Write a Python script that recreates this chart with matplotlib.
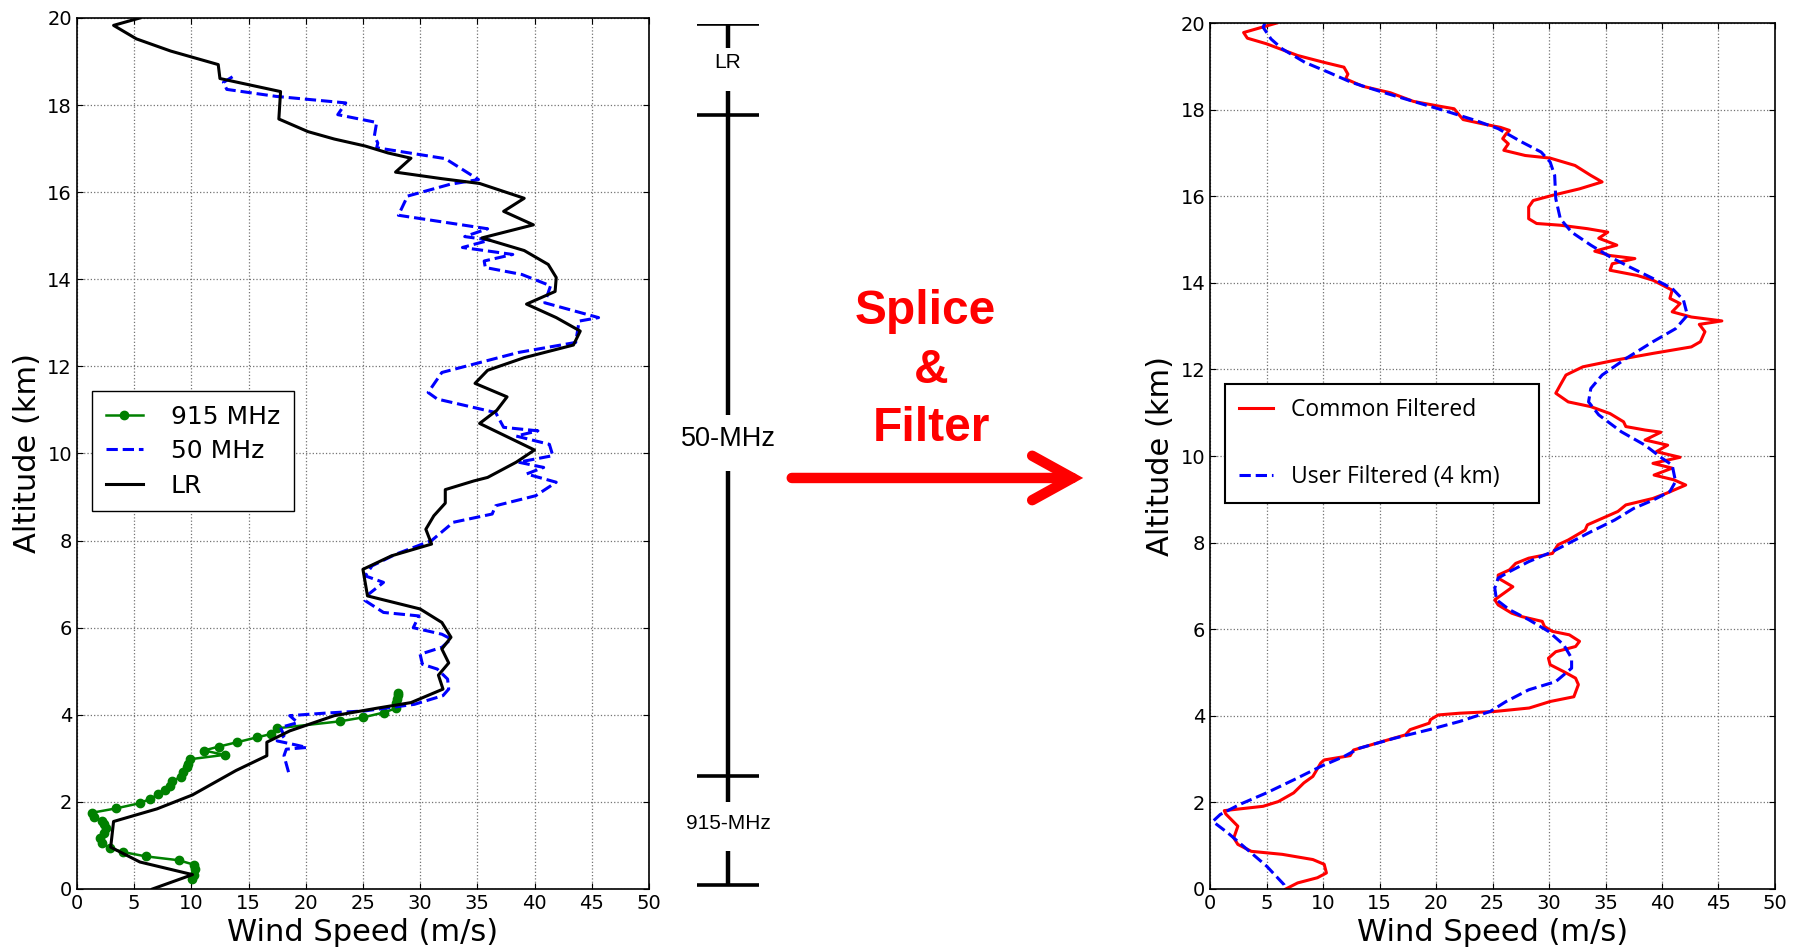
import matplotlib
matplotlib.use('Agg')
from matplotlib import pyplot as plt
from matplotlib.patches import FancyArrowPatch

# ---- left panel: raw profiles (wind speed m/s, altitude km) ----
lr_alt = [20.0, 19.83, 19.52, 19.24, 18.93, 18.61, 18.31, 17.68, 17.39, 17.22,
          17.06, 16.9, 16.78, 16.46, 16.31, 16.2, 15.86, 15.56, 15.25, 14.95,
          14.66, 14.34, 14.04, 13.72, 13.43, 13.12, 12.81, 12.49, 12.2, 11.91,
          11.61, 11.3, 10.99, 10.69, 10.08, 9.8, 9.45, 9.37, 9.17, 8.86,
          8.57, 8.26, 7.92, 7.65, 7.34, 6.73, 6.43, 6.12, 5.78, 5.51,
          5.19, 4.91, 4.59, 4.28, 4.15, 3.98, 3.63, 3.37, 3.06, 2.72,
          2.16, 1.84, 1.55, 0.96, 0.62, 0.33, 0.0]
lr_spd = [5.5, 3.2, 5.2, 8.2, 12.35, 12.5, 17.8, 17.65, 20.2, 22.5,
          25.2, 27.2, 29.2, 27.85, 31.9, 35.2, 39.1, 37.3, 39.9, 35.4,
          39.1, 41.2, 41.9, 41.8, 39.3, 41.9, 44.0, 43.4, 39.1, 35.9,
          34.8, 37.6, 36.7, 35.2, 40.0, 38.4, 35.9, 34.7, 32.2, 32.2,
          31.2, 30.5, 31.0, 27.5, 25.0, 25.4, 30.0, 31.9, 32.7, 31.9,
          32.5, 31.6, 32.0, 29.2, 26.2, 22.5, 18.6, 16.6, 16.6, 13.9,
          10.1, 7.0, 3.2, 2.95, 5.5, 10.1, 6.6]

mhz50_alt = [18.65, 18.52, 18.36, 18.2, 18.05, 17.78, 17.6, 17.29, 17.13, 17.02,
             16.77, 16.29, 16.18, 15.91, 15.47, 15.16, 14.98, 14.9, 14.73, 14.57,
             14.42, 14.27, 14.11, 13.85, 13.46, 13.12, 13.04, 12.55, 12.32, 11.86,
             11.4, 11.25, 10.94, 10.6, 10.52, 10.4, 10.21, 9.95, 9.8, 9.68,
             9.53, 9.34, 9.03, 8.8, 8.61, 8.42, 8.0, 7.69, 7.42, 7.19,
             7.04, 6.77, 6.62, 6.35, 6.27, 6.0, 5.85, 5.74, 5.55, 5.39,
             5.16, 5.05, 4.82, 4.59, 4.44, 4.32, 4.24, 4.09, 4.04, 3.98,
             3.82, 3.71, 3.52, 3.4, 3.31, 3.25, 3.21, 3.06, 2.68]
mhz50_spd = [13.6, 12.8, 13.1, 17.4, 23.5, 22.8, 26.2, 26.0, 26.3, 26.2,
             32.2, 35.1, 32.6, 28.9, 28.1, 35.9, 33.9, 36.1, 33.7, 38.1,
             35.6, 35.7, 38.9, 41.4, 40.9, 45.6, 43.9, 43.6, 38.6, 31.9,
             30.7, 31.5, 36.6, 37.3, 40.3, 38.4, 41.3, 41.6, 38.6, 40.8,
             39.3, 41.9, 40.1, 36.6, 36.3, 32.9, 31.0, 27.9, 25.8, 25.2,
             26.8, 25.5, 25.2, 26.8, 29.9, 29.4, 31.9, 32.7, 31.9, 30.0,
             30.2, 31.5, 32.4, 32.5, 32.0, 30.5, 29.5, 25.2, 21.8, 18.6,
             19.3, 17.8, 18.1, 17.5, 19.1, 20.1, 18.3, 18.1, 18.5]

mhz915_alt = [0.22, 0.33, 0.47, 0.56, 0.66, 0.75, 0.85, 0.94, 1.06, 1.17,
              1.28, 1.4, 1.5, 1.57, 1.65, 1.75, 1.85, 1.97, 2.07, 2.17,
              2.27, 2.37, 2.47, 2.58, 2.69, 2.79, 2.88, 2.98, 3.08, 3.18,
              3.27, 3.37, 3.48, 3.56, 3.69, 3.85, 3.94, 4.05, 4.15, 4.28,
              4.37, 4.45, 4.51]
mhz915_spd = [10.1, 10.2, 10.3, 10.2, 8.9, 6.0, 4.0, 2.85, 2.2, 2.0,
              2.35, 2.5, 2.35, 2.2, 1.5, 1.3, 3.4, 5.5, 6.4, 7.1,
              7.7, 8.1, 8.3, 9.1, 9.3, 9.6, 9.7, 9.9, 12.9, 11.1,
              12.4, 14.0, 15.7, 17.0, 17.5, 23.0, 25.0, 26.8, 27.9, 27.9,
              28.0, 28.1, 28.1]

# ---- right panel: filtered profiles ----
common_alt = [20.0, 19.78, 19.65, 19.52, 19.25, 19.09, 18.98, 18.82, 18.71, 18.54,
              18.39, 18.19, 18.09, 18.02, 17.86, 17.77, 17.67, 17.59, 17.52, 17.44,
              17.33, 17.21, 17.06, 16.94, 16.88, 16.71, 16.48, 16.33, 16.17, 16.02,
              15.9, 15.75, 15.48, 15.37, 15.33, 15.25, 15.17, 15.03, 14.87, 14.73,
              14.63, 14.56, 14.44, 14.29, 14.17, 14.06, 13.83, 13.64, 13.52, 13.33,
              13.21, 13.12, 13.04, 12.87, 12.64, 12.52, 12.37, 12.21, 12.06, 11.87,
              11.64, 11.45, 11.25, 11.14, 10.98, 10.79, 10.68, 10.6, 10.55, 10.37,
              10.25, 10.1, 9.97, 9.83, 9.72, 9.56, 9.45, 9.33, 9.14, 9.02,
              8.87, 8.72, 8.56, 8.41, 8.29, 8.06, 7.95, 7.75, 7.64, 7.52,
              7.37, 7.25, 7.18, 6.98, 6.68, 6.56, 6.37, 6.29, 6.18, 6.06,
              5.95, 5.87, 5.72, 5.6, 5.48, 5.33, 5.18, 5.02, 4.87, 4.72,
              4.44, 4.33, 4.18, 4.1, 4.06, 4.02, 3.91, 3.83, 3.68, 3.56,
              3.41, 3.21, 3.08, 2.98, 2.91, 2.6, 2.45, 2.22, 2.02, 1.91,
              1.81, 1.73, 1.45, 1.18, 1.03, 0.87, 0.8, 0.68, 0.57, 0.37,
              0.26, 0.14, 0.0]
common_spd = [5.9, 2.97, 3.3, 5.0, 7.75, 10.1, 11.85, 12.2, 12.0, 13.5,
              15.95, 18.0, 20.05, 21.6, 22.1, 22.4, 24.15, 25.7, 26.5, 26.2,
              25.9, 26.4, 26.0, 27.9, 30.1, 32.3, 33.7, 34.7, 32.7, 30.3,
              28.6, 28.2, 28.2, 28.9, 31.0, 33.4, 35.2, 34.4, 36.0, 34.05,
              35.4, 37.6, 35.6, 35.4, 37.8, 39.2, 40.9, 40.7, 41.6, 40.9,
              42.6, 45.3, 43.3, 43.8, 43.4, 42.6, 39.2, 35.8, 33.0, 31.5,
              31.0, 30.6, 31.7, 33.7, 35.4, 36.6, 36.8, 38.5, 39.9, 38.5,
              40.5, 39.5, 41.6, 39.2, 40.9, 39.3, 41.05, 42.1, 40.4, 39.2,
              36.8, 36.1, 34.7, 33.4, 33.2, 31.7, 30.8, 30.3, 28.2, 27.05,
              26.5, 25.5, 25.5, 26.8, 25.2, 25.5, 26.7, 27.6, 29.4, 29.6,
              30.3, 31.8, 32.7, 32.35, 30.6, 29.95, 30.1, 31.3, 32.35, 32.6,
              32.2, 30.1, 28.25, 25.2, 22.1, 20.2, 19.5, 19.4, 17.7, 17.3,
              15.3, 12.7, 12.4, 10.1, 9.8, 9.1, 8.3, 7.4, 6.05, 4.7,
              1.26, 1.4, 2.46, 2.1, 2.46, 3.65, 6.4, 9.1, 10.1, 10.3,
              9.5, 7.75, 6.7]

user_alt = [20.0, 19.9, 19.63, 19.4, 19.09, 18.86, 18.63, 18.4, 18.19, 17.98,
            17.75, 17.56, 17.25, 17.02, 16.79, 16.48, 15.94, 15.48, 15.17, 14.87,
            14.6, 14.37, 14.1, 13.87, 13.6, 13.25, 12.94, 12.64, 12.25, 11.87,
            11.56, 11.25, 10.95, 10.56, 10.25, 9.95, 9.79, 9.41, 9.18, 8.98,
            8.79, 8.52, 8.25, 8.02, 7.79, 7.56, 7.33, 7.18, 6.95, 6.68,
            6.45, 6.22, 5.95, 5.64, 5.33, 5.1, 4.79, 4.6, 4.33, 4.1,
            3.87, 3.68, 3.48, 3.25, 3.06, 2.83, 2.52, 2.22, 1.95, 1.72,
            1.56, 1.29, 0.91, 0.53, 0.1, 0.0]
user_spd = [4.85, 4.7, 5.4, 6.4, 8.4, 10.5, 12.5, 15.3, 18.0, 20.7,
            23.5, 25.5, 27.6, 29.3, 30.1, 30.5, 30.6, 31.0, 32.0, 33.7,
            35.4, 37.1, 39.2, 40.9, 41.9, 42.25, 41.2, 39.2, 36.8, 34.7,
            33.7, 33.5, 34.4, 36.4, 38.5, 40.0, 40.9, 41.2, 40.7, 39.2,
            37.5, 35.8, 33.7, 32.0, 30.3, 28.2, 26.5, 25.5, 25.2, 25.35,
            26.5, 28.2, 29.95, 31.3, 32.0, 32.0, 30.6, 28.2, 26.2, 24.8,
            22.1, 19.4, 16.3, 13.2, 11.85, 9.8, 7.4, 5.0, 2.6, 0.9,
            0.24, 1.6, 3.3, 5.0, 6.55, 6.7]

# ---- middle schematic: which instrument covers which altitude (km) ----
splice_bars = [0.14, 2.65, 17.9, 20.0]
splice_lines = [(19.45, 20.0), (10.98, 18.45), (2.05, 9.69), (0.14, 0.92)]
splice_names = ['LR', '50-MHz', '915-MHz']
splice_name_alt = [19.12, 10.43, 1.55]
splice_name_size = [15, 19.5, 15]


def style_axes(ax):
    ax.set_xlim(0, 50)
    ax.set_ylim(0, 20)
    ax.set_xticks(range(0, 51, 5))
    ax.set_yticks(range(0, 21, 2))
    ax.grid(True, color='0.45', linestyle=':', linewidth=0.9)
    ax.tick_params(labelsize=14, direction='in', top=True, right=True, length=4)
    ax.set_xlabel('Wind Speed (m/s)', fontsize=22, labelpad=4)
    ax.set_ylabel('Altitude (km)', fontsize=22, labelpad=4)
    for s in ax.spines.values():
        s.set_linewidth(1.2)


fig = plt.figure(figsize=(17.98, 9.51), dpi=100)

ax1 = fig.add_axes([0.0428, 0.0652, 0.3181, 0.9159])
ax1.plot(mhz915_spd, mhz915_alt, '-', color='green', marker='o', ms=6, lw=1.8,
         label='915 MHz')
ax1.plot(mhz50_spd, mhz50_alt, 'b--', lw=2.2, label='50 MHz')
ax1.plot(lr_spd, lr_alt, 'k-', lw=2.2, label='LR')
style_axes(ax1)
leg1 = ax1.legend(loc='upper left', bbox_to_anchor=(0.026, 0.572), borderaxespad=0,
                  fontsize=18, fancybox=False, framealpha=1, edgecolor='k',
                  handlelength=1.5, handletextpad=1.1, labelspacing=0.42,
                  borderpad=0.55)
leg1.get_frame().set_linewidth(1.0)

ax2 = fig.add_axes([0.6730, 0.0652, 0.3142, 0.9106])
ax2.plot(common_spd, common_alt, '-', color='red', lw=2.2, label='Common Filtered')
ax2.plot(user_spd, user_alt, 'b--', lw=2.2, label='User Filtered (4 km)')
style_axes(ax2)
leg2 = ax2.legend(loc='upper left', bbox_to_anchor=(0.0265, 0.583, 0.556, 0),
                  mode='expand', borderaxespad=0,
                  prop={'family': 'Open Sans', 'size': 16.5}, fancybox=False,
                  framealpha=1, edgecolor='k', handlelength=1.5,
                  handletextpad=0.8, labelspacing=1.9, borderpad=0.6)
leg2.get_frame().set_linewidth(1.5)

# middle schematic shares the altitude scale of the right panel
axm = fig.add_axes([680 / 1798, 0.0631, 100 / 1798, 0.9117])
axm.set_xlim(0, 1)
axm.set_ylim(0, 20)
axm.axis('off')
for b in splice_bars:
    axm.plot([0.17, 0.79], [b, b], 'k-', lw=2.6, solid_capstyle='butt')
for lo, hi in splice_lines:
    axm.plot([0.48, 0.48], [lo, hi], 'k-', lw=3.2, solid_capstyle='butt')
for name, alt, size in zip(splice_names, splice_name_alt, splice_name_size):
    axm.text(0.48, alt, name, ha='center', va='center', fontsize=size,
             family='Liberation Sans')

red_font = dict(ha='center', va='center', color='red', fontsize=34.5,
                fontweight='bold', family='Liberation Sans')
fig.text(0.5145, 0.672, 'Splice', **red_font)
fig.text(0.5178, 0.610, '&', **red_font)
fig.text(0.5178, 0.549, 'Filter', **red_font)

arrow = FancyArrowPatch((0.4388, 0.4974), (0.6040, 0.4974), transform=fig.transFigure,
                        arrowstyle='->,head_length=1.45,head_width=0.8',
                        mutation_scale=20, lw=7.5, color='red', joinstyle='miter')
fig.add_artist(arrow)

plt.savefig('out.png', dpi=100)
